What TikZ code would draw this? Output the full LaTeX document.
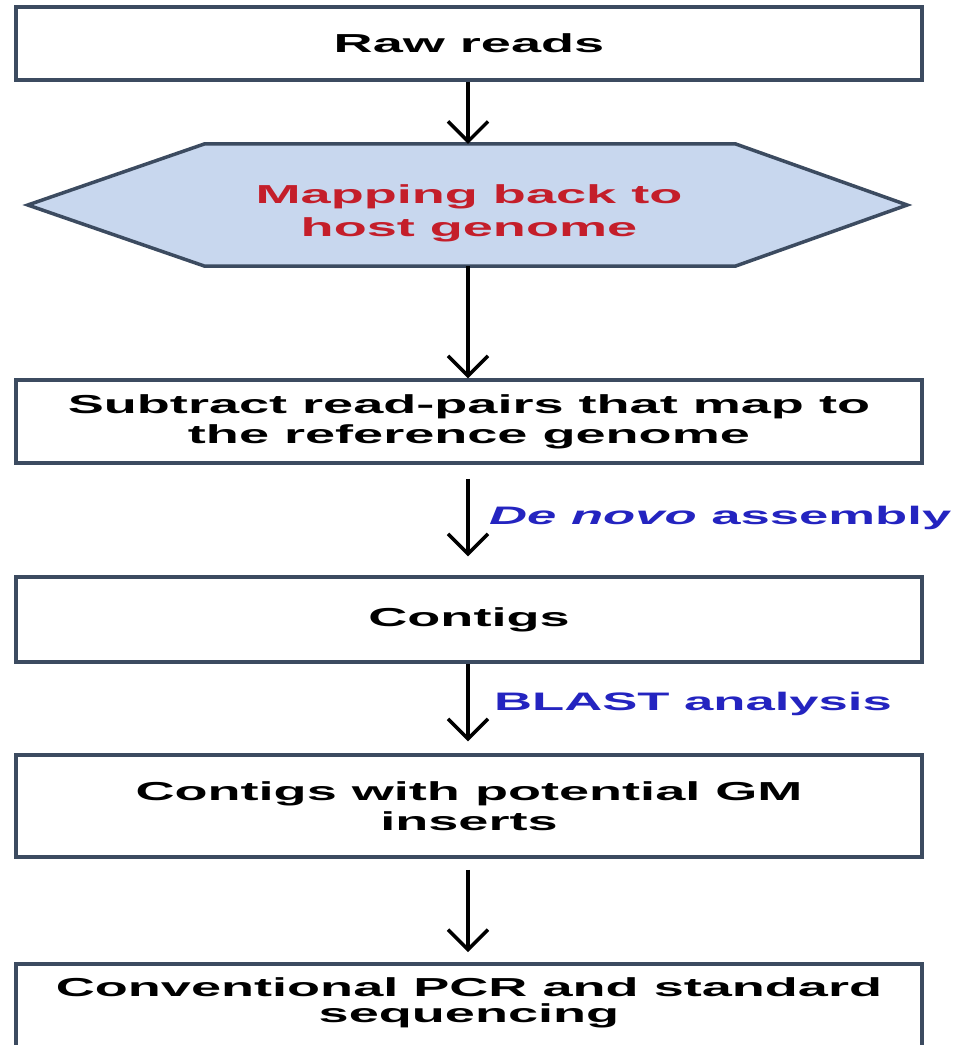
\documentclass[tikz,border=0pt]{standalone}
\usepackage{fontspec}
\setmainfont{Liberation Sans}[FakeStretch=2.08]
\usetikzlibrary{arrows.meta,calc,backgrounds}
\definecolor{boxline}{HTML}{3C4B60}
\definecolor{hexfill}{HTML}{C8D7EE}
\definecolor{redtxt}{HTML}{C41E2A}
\definecolor{bluetxt}{HTML}{2424C0}
\tikzset{
  stepbox/.style={draw=boxline, line width=3.5pt, fill=white, minimum width=906, align=center, inner sep=0pt},
  txt/.style={font=\fontsize{26}{30}\selectfont\bfseries, align=center, inner sep=0pt},
  flow/.style={line width=3.4pt, -{Straight Barb[length=20pt,width=40pt]}},
  lab/.style={font=\fontsize{25.3}{30}\selectfont\bfseries, text=bluetxt, anchor=west, inner sep=0pt},
}
\begin{document}
\begin{tikzpicture}[x=1pt,y=-1pt]
\clip (0,0) rectangle (963,1045);

\node[stepbox, txt, minimum height=73] (b1) at (469,43.5) {Raw reads};

\node[minimum width=879, minimum height=122, inner sep=0pt] (hex) at (467.5,205) {};
\node[txt, font=\fontsize{26}{33}\selectfont\bfseries, text=redtxt] (hext) at (469,213) {Mapping back to\\host genome};
\begin{scope}[on background layer]
\draw[draw=boxline, fill=hexfill, line width=3.5pt, line join=miter]
  (hex.west) -- ($(hex.north west)+(177,0)$) -- ($(hex.north east)+(-172,0)$)
  -- (hex.east) -- ($(hex.south east)+(-172,0)$) -- ($(hex.south west)+(177,0)$) -- cycle;
\end{scope}

\node[stepbox, txt, minimum height=83] (b3) at (469,421.5) {Subtract read-pairs that map to\\the reference genome};
\node[stepbox, txt, minimum height=85] (b4) at (469,619.5) {Contigs};
\node[stepbox, txt, minimum height=102] (b5) at (469,806) {Contigs with potential GM\\inserts};
\node[stepbox, minimum height=120, anchor=north] (b6) at (469,962) {};
\node[txt, font=\fontsize{26}{26}\selectfont\bfseries] (t6) at (469,1003) {Conventional PCR and standard\\sequencing};

\draw[flow] (b1.south -| 468,0) -- (hex.north -| 468,0);
\draw[flow] (hex.south -| 468,0) -- (b3.north -| 468,0);
\draw[flow, shorten <=14pt, shorten >=19pt] (b3.south -| 468,0) -- (b4.north -| 468,0);
\draw[flow, shorten >=12pt] (b4.south -| 468,0) -- (b5.north -| 468,0);
\draw[flow, shorten <=11pt, shorten >=10pt] (b5.south -| 468,0) -- (b6.north -| 468,0);

\node[lab] (l1) at (489,518) {\itshape De novo\upshape{} assembly};
\node[lab] (l2) at (494,704) {BLAST analysis};
\end{tikzpicture}
\end{document}
